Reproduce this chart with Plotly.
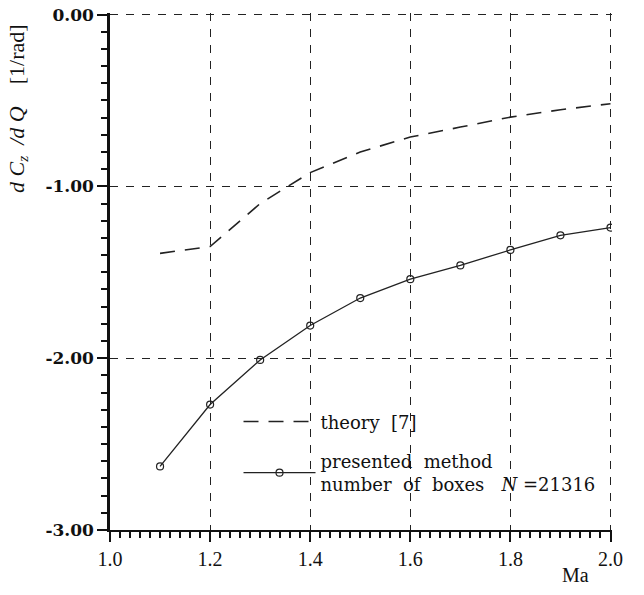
import plotly.graph_objects as go

mach = [1.1, 1.2, 1.3, 1.4, 1.5, 1.6, 1.7, 1.8, 1.9, 2.0]
theory = [-1.39, -1.35, -1.10, -0.92, -0.80, -0.713, -0.655, -0.597, -0.554, -0.519]
presented = [-2.63, -2.27, -2.01, -1.81, -1.65, -1.54, -1.46, -1.37, -1.285, -1.24]

x_ticks = [1.0, 1.2, 1.4, 1.6, 1.8, 2.0]
x_labels = ["1.0", "1.2", "1.4", "1.6", "1.8", "2.0"]
y_ticks = [0, -1, -2, -3]
y_labels = ["0.00", "-1.00", "-2.00", "-3.00"]

SERIF = "Liberation Serif"

fig = go.Figure()
fig.add_trace(go.Scatter(
    x=mach, y=theory, mode="lines", name="theory  [7]", legendgroup="a",
    line=dict(color="#222", width=1.6, dash="15px,10px"),
))
fig.add_trace(go.Scatter(
    x=mach, y=presented, mode="lines+markers", legendgroup="b",
    name="presented  method<br>number  of  boxes   <i>N</i> =21316",
    line=dict(color="#222", width=1.3),
    marker=dict(symbol="circle-open", size=7, color="#222", line=dict(width=1.2)),
))

fig.update_layout(
    width=644, height=595,
    margin=dict(l=110, r=32, t=13, b=65, autoexpand=False),
    paper_bgcolor="white", plot_bgcolor="white",
    font=dict(family=SERIF, color="#111"),
    legend=dict(
        x=0.256, y=0.245, xanchor="left", yanchor="top",
        bgcolor="rgba(0,0,0,0)", font=dict(size=18, family="DejaVu Serif"),
        traceorder="grouped", tracegroupgap=13, itemwidth=72,
    ),
    showlegend=True,
)
fig.update_xaxes(
    range=[1.0, 2.003], tickvals=x_ticks, ticktext=x_labels,
    showline=True, linecolor="#111", linewidth=2, mirror=False,
    ticks="outside", ticklen=10, tickwidth=1.5, tickcolor="#111",
    tickfont=dict(size=20, family=SERIF), ticklabeloverflow="allow",
    showgrid=True, gridcolor="#222", gridwidth=1.3, griddash="8px,8px",
    minor=dict(dtick=0.02, ticks="outside", ticklen=6, tickcolor="#111", showgrid=False),
    zeroline=False, automargin=False,
)
fig.update_yaxes(
    range=[-3.0, 0.009], tickvals=y_ticks, ticktext=y_labels,
    showline=True, linecolor="#111", linewidth=2.5, mirror=False,
    ticks="outside", ticklen=10, tickwidth=1.5, tickcolor="#111",
    tickfont=dict(size=17, family="DejaVu Serif", weight="bold"), ticklabeloverflow="allow",
    showgrid=True, gridcolor="#222", gridwidth=1.3, griddash="8px,8px",
    minor=dict(dtick=0.1, ticks="outside", ticklen=6, tickcolor="#111", showgrid=False),
    zeroline=False, automargin=False,
)
fig.add_annotation(
    text="<i>d C</i><sub><i>z</i></sub><i>  /d Q</i>    [1/rad]",
    xref="paper", yref="paper", x=-0.1836, y=0.816, xanchor="center", yanchor="middle",
    textangle=-90, showarrow=False, font=dict(size=22, family=SERIF),
)
fig.add_annotation(
    text="Ma", xref="paper", yref="paper", x=0.928, y=-0.087,
    xanchor="center", yanchor="middle", showarrow=False,
    font=dict(size=20, family=SERIF),
)
fig.write_html("out.html", config={"displayModeBar": False},
               post_script="document.body.style.margin='0px';")
